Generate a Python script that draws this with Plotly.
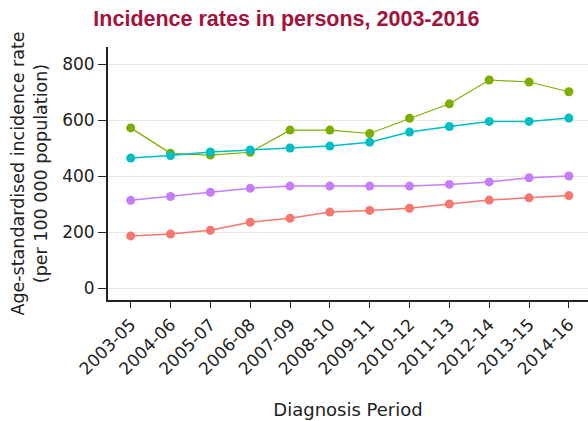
import plotly.graph_objects as go

periods = ["2003-05", "2004-06", "2005-07", "2006-08", "2007-09", "2008-10",
           "2009-11", "2010-12", "2011-13", "2012-14", "2013-15", "2014-16"]
series_red = [187, 194, 207, 236, 250, 272, 278, 286, 301, 315, 323, 331]
series_green = [573, 482, 476, 486, 565, 565, 553, 607, 659, 744, 737, 702]
series_cyan = [465, 474, 487, 494, 501, 508, 522, 558, 578, 596, 596, 608]
series_purple = [314, 328, 343, 357, 365, 365, 365, 365, 371, 380, 395, 401]
y_ticks = [0, 200, 400, 600, 800]

colors = {"red": "#F8766D", "green": "#7CAE00", "cyan": "#00BFC4", "purple": "#C77CFF"}

fig = go.Figure()
for name, vals, width in [("green", series_green, 1.2), ("cyan", series_cyan, 1.5),
                          ("purple", series_purple, 1.5), ("red", series_red, 1.5)]:
    fig.add_trace(go.Scatter(
        x=list(range(len(periods))), y=vals, mode="lines+markers", name=name,
        line=dict(color=colors[name], width=width),
        marker=dict(color=colors[name], size=9),
        showlegend=False,
    ))

fig.update_layout(
    template="none",
    width=588, height=421,
    margin=dict(l=108, r=0, t=47, b=121),
    paper_bgcolor="white", plot_bgcolor="white",
    font=dict(family="DejaVu Sans, Verdana, sans-serif", size=17, color="#222"),
    title=dict(text="<b>Incidence rates in persons, 2003-2016</b>",
               font=dict(family="Liberation Sans, Arial, sans-serif", size=21.5, color="#A3123A"),
               x=0.487, xanchor="center", xref="container", y=0.957, yanchor="middle",
               yref="container"),
)
fig.update_xaxes(
    range=[-0.57, 11.48], automargin=False,
    tickmode="array", tickvals=list(range(len(periods))), ticktext=periods,
    tickangle=-45, ticks="outside", ticklen=6, tickwidth=1.2, tickcolor="#222",
    tickfont=dict(size=17),
    showline=True, linecolor="#222", linewidth=1.8, showgrid=False, zeroline=False,
    title=dict(text="Diagnosis Period", font=dict(size=18), standoff=26),
)
fig.update_yaxes(
    range=[-42, 862], automargin=False,
    tickmode="array", tickvals=y_ticks,
    ticks="outside", ticklen=8, tickwidth=1.2, tickcolor="#222",
    tickfont=dict(size=17),
    showline=True, linecolor="#222", linewidth=1.8,
    showgrid=True, gridcolor="#EBEBDF", gridwidth=1.2, zeroline=False,
    title=dict(text="Age-standardised incidence rate<br>(per 100 000 population)",
               font=dict(size=17.5), standoff=10),
)

fig.write_html("out.html", config={"displayModeBar": False},
               post_script="document.body.style.margin='0';document.body.style.overflow='hidden';")
